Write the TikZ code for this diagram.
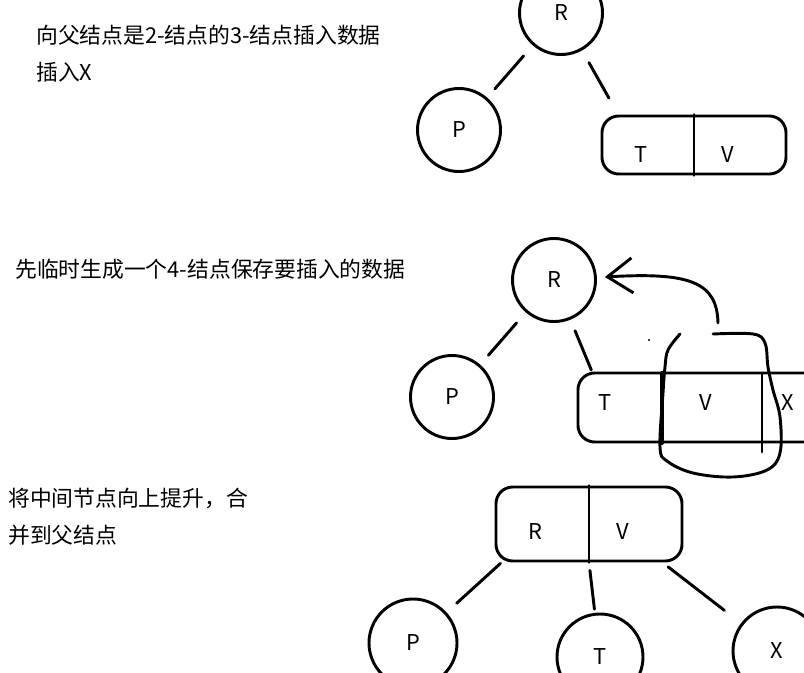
\documentclass[tikz,border=0pt]{standalone}
\usepackage{fontspec}
\setmainfont{Noto Sans CJK SC}
\usetikzlibrary{positioning,arrows.meta,calc}

\begin{document}
\begin{tikzpicture}
		[x=0.03cm, y=-0.03cm, font=\fontsize{18.6pt}{22pt}\selectfont,
		% STYLES
		% every stroke is drawn by hand with the same fat pen
		sketch/.style={line width=2.5pt, line cap=round, line join=round},
		% the caption of each step
		caption/.style={anchor=west, inner sep=0pt},
		% a 2-node
		leaf/.style={circle, draw, sketch, minimum size=2.49cm, inner sep=0pt},
		% a 2-node after the split
		leaf-big/.style={leaf, minimum size=2.64cm},
		% a 3-node or a 4-node
		multi/.style={rectangle, draw, sketch, rounded corners=0.5cm, inner sep=0pt},
		% a key inside a multi node
		key/.style={inner sep=0pt}]

		\useasboundingbox (0,0) rectangle (804,673);
		\clip (0,0) rectangle (804,673);

		% Step 1
		\node [caption] (cap1a) at (36,35) {向父结点是2-结点的3-结点插入数据};
		\node [caption] (cap1b) at (36,72) {插入X};
		\node [leaf] (R1) at (561,13) {R};
		\node [leaf] (P1) at (459,130) {P};
		\node [multi, minimum width=5.52cm, minimum height=1.74cm] (TV1) at (694,145) {};
		\node [key] (T1) at (641,155) {T};
		\node [key] (V1) at (728,155) {V};

		% Step 2
		\node [caption] (cap2) at (15,269) {先临时生成一个4-结点保存要插入的数据};
		\node [leaf] (R2) at (554,280) {R};
		\node [leaf] (P2) at (452,397) {P};
		\node [multi, minimum width=9cm, minimum height=2.07cm] (TVX2) at (728,407.5) {};
		\node [key] (T2) at (605,403) {T};
		\node [key] (V2) at (706,403) {V};
		\node [key] (X2) at (788,403) {X};

		% Step 3
		\node [caption] (cap3a) at (8,498) {将中间节点向上提升，合};
		\node [caption] (cap3b) at (8,535) {并到父结点};
		\node [multi, minimum width=5.58cm, minimum height=2.22cm] (RV3) at (589,524) {};
		\node [key] (R3) at (535,532) {R};
		\node [key] (V3) at (623,532) {V};
		\node [leaf-big] (P3) at (413,643) {P};
		\node [leaf-big, minimum size=2.58cm] (T3) at (600,657) {T};
		\node [leaf-big] (X3) at (777,651) {X};

		%%%%%%%%%%%%%%%
		% Dividers between the keys
		\draw[sketch] (TV1.north) -- (TV1.south);
		\draw[sketch] (RV3.north) -- (RV3.south);
		\draw[sketch, line width=3.4pt] (662,373) -- (662,443);
		\draw[sketch] (762,373) -- (762,452);

		%%%%%%%%%%%%%%%%
		% Draw the links between the nodes
		\path[sketch]
			(R1) edge[shorten <=0.42cm, shorten >=0.35cm] (P1)
			(R1) edge[shorten <=0.42cm, shorten >=1.96cm] (T1.center)
			(R2) edge[shorten <=0.42cm, shorten >=0.37cm] (P2)
			(R2) edge[shorten <=0.36cm, shorten >=1.07cm] (T2.center)
			(R3.center) edge[shorten <=1.40cm, shorten >=0.41cm] (P3)
			(RV3.south) edge[shorten <=0.24cm, shorten >=0.11cm] (T3)
			(V3.center) edge[shorten <=1.71cm, shorten >=0.63cm] (X3);

		% the middle key is ringed and sent up
		\draw[sketch] plot[smooth, tension=0.6] coordinates {(680,334) (668,350) (665,367) (663,393) (660,447) (667,461) (693,473) (733,477) (767,470) (780,453) (780,417) (773,390) (768,367) (765,343) (753,334) (713,334)};
		\coordinate (looptop) at (718,323);
		\draw[sketch, -{Straight Barb[length=0.75cm, width=1.05cm]}, shorten >=0.24cm]
			(looptop) .. controls (717,282) and (690,272) .. (R2);
		\fill (649,340) circle (1pt);
\end{tikzpicture}
\end{document}
